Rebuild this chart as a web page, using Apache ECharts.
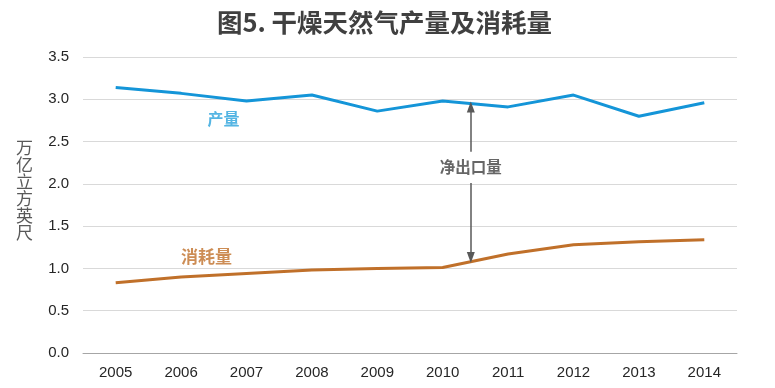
<!DOCTYPE html>
<html><head><meta charset="utf-8">
<script src="https://cdn.jsdelivr.net/npm/echarts@6/dist/echarts.min.js"></script>
<style>html,body{margin:0;padding:0;background:#fff}#c{width:775px;height:388px}</style>
</head><body><div id="c"></div>
<script>
var years = ['2005','2006','2007','2008','2009','2010','2011','2012','2013','2014'];
var production = [3.14, 3.07, 2.98, 3.05, 2.86, 2.98, 2.91, 3.05, 2.80, 2.96];
var consumption = [0.83, 0.90, 0.94, 0.98, 1.00, 1.01, 1.17, 1.28, 1.315, 1.34];
var yTicks = ['0.0','0.5','1.0','1.5','2.0','2.5','3.0','3.5'];
var arrowX = 5.43;            // position between 2010 and 2011 (category index)
var arrowTop = 2.91, arrowBottom = 1.13, gapTop = 2.38, gapBottom = 2.01, labelY = 2.20;

var F = '"Liberation Sans", Arial, "Noto Sans CJK SC", sans-serif';
var CJK = '"Noto Sans CJK SC", sans-serif';
var chart = echarts.init(document.getElementById('c'));
chart.setOption({
  animation: false,
  title: {text: '图5. 干燥天然气产量及消耗量', left: 212, top: 5,
    textStyle: {fontFamily: CJK, fontSize: 25.5, fontWeight: 'bold', color: '#404040'}},
  graphic: [{
    type: 'text', left: 16, top: 139,
    style: {text: '万\n亿\n立\n方\n英\n尺', font: '17px ' + CJK, lineHeight: 17, fill: '#595959'}
  }],
  grid: {left: 83, right: 38, top: 57, bottom: 35},
  xAxis: [{
    type: 'category', data: years, boundaryGap: true,
    axisLine: {lineStyle: {color: '#a6a6a6', width: 1}},
    axisTick: {length: 5, lineStyle: {color: '#a6a6a6'}},
    axisLabel: {color: '#262626', fontSize: 15, fontFamily: F, margin: 12}
  }, {
    type: 'value', min: -0.5, max: 9.5, show: false
  }],
  yAxis: {
    type: 'value', min: 0, max: 3.5, interval: 0.5,
    axisLine: {show: false}, axisTick: {show: false},
    axisLabel: {color: '#262626', fontSize: 15, fontFamily: F, margin: 14,
      formatter: function (v) { return yTicks[Math.round(v / 0.5)]; }},
    splitLine: {lineStyle: {color: '#d9d9d9', width: 1}}
  },
  series: [{
    name: '产量', type: 'line', data: production, symbol: 'none',
    lineStyle: {color: '#1495d8', width: 3}
  }, {
    name: '消耗量', type: 'line', data: consumption, symbol: 'none',
    lineStyle: {color: '#c0702a', width: 3}
  }, {
    type: 'scatter', xAxisIndex: 1, symbolSize: 0, silent: true,
    data: [
      {value: [1.65, 2.77], label: {show: true, position: 'inside', formatter: '产量', color: '#2aa3dc', fontSize: 16, fontWeight: 'bold', fontFamily: CJK}},
      {value: [1.39, 1.14], label: {show: true, position: 'inside', formatter: '消耗量', color: '#c0702a', fontSize: 17, fontWeight: 'bold', fontFamily: CJK}},
      {value: [arrowX, labelY], label: {show: true, position: 'inside', formatter: '净出口量', color: '#404040', fontSize: 15.5, fontWeight: 'bold', fontFamily: CJK}}
    ],
    markLine: {
      silent: true, symbol: ['none', 'triangle'], symbolSize: [8, 11],
      lineStyle: {color: '#595959', width: 1.5, type: 'solid'},
      label: {show: false},
      data: [
        [{coord: [arrowX, gapTop]}, {coord: [arrowX, arrowTop]}],
        [{coord: [arrowX, gapBottom]}, {coord: [arrowX, arrowBottom], symbolRotate: 180}]
      ]
    }
  }]
});
</script></body></html>
